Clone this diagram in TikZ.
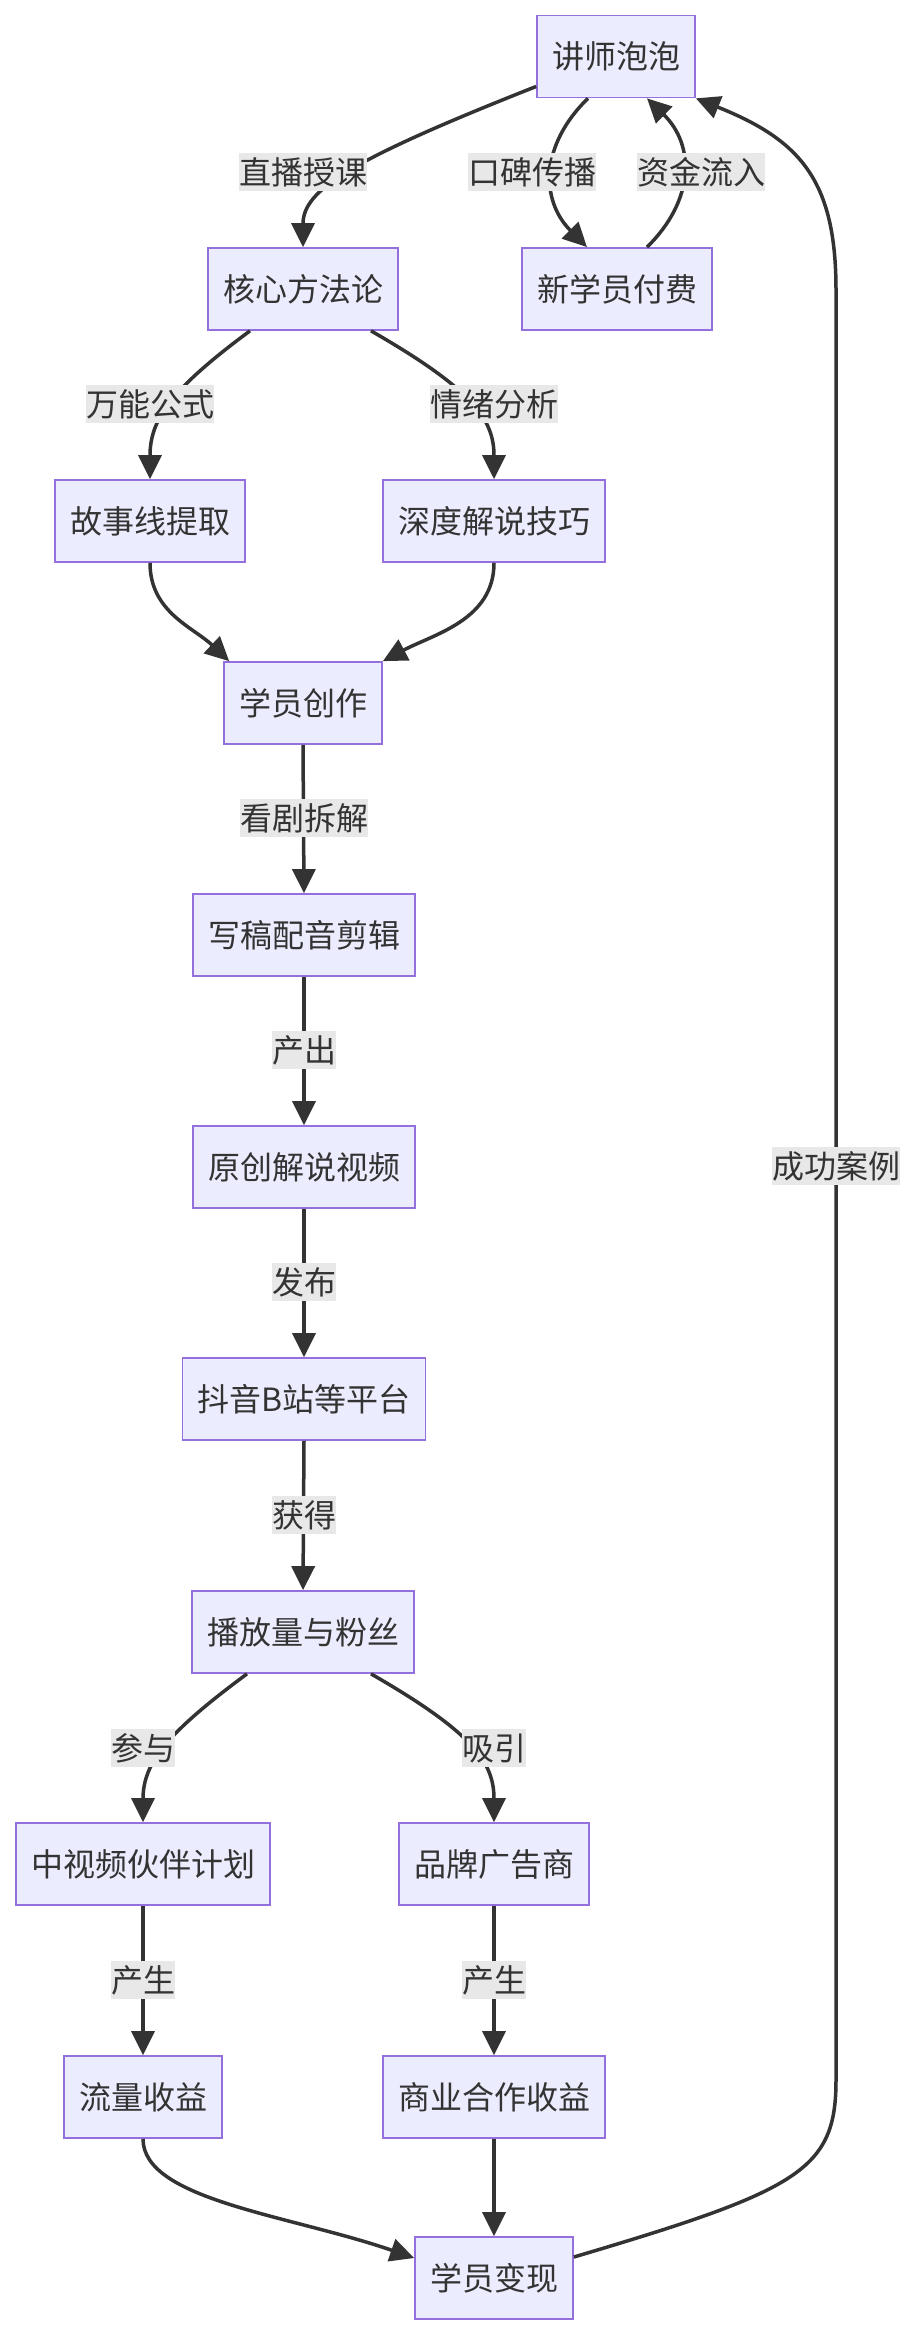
\documentclass[tikz,border=0pt]{standalone}
\usepackage{fontspec}
\setmainfont{Noto Sans CJK SC}
\usetikzlibrary{arrows.meta}
\definecolor{nodefill}{HTML}{ECECFF}
\definecolor{nodeline}{HTML}{9370DB}
\definecolor{edgecol}{HTML}{333333}
\definecolor{lblfill}{HTML}{E8E8E8}
\begin{document}
\begin{tikzpicture}[x=1pt,y=-1pt,
  box/.style={draw=nodeline, fill=nodefill, line width=1.7pt, minimum height=82pt,
    inner xsep=15pt, inner ysep=0pt, text=edgecol, font=\fontsize{32}{38}\selectfont},
  lbl/.style={fill=lblfill, inner xsep=0pt, inner ysep=0pt, minimum height=38pt,
    text=edgecol, font=\fontsize{32}{38}\selectfont},
  conn/.style={draw=edgecol, line width=3.5pt, -{Triangle[length=24pt,width=23pt]}},
  connplain/.style={draw=edgecol, line width=3.5pt}]
\useasboundingbox (0,0) rectangle (916,2336);
% nodes
\node[box] (jsp) at (616,56.5) {讲师泡泡};
\node[box] (hx) at (303,289) {核心方法论};
\node[box] (xf) at (617,289) {新学员付费};
\node[box] (gs) at (150,521) {故事线提取};
\node[box] (sd) at (494,521) {深度解说技巧};
\node[box] (xy) at (303,703) {学员创作};
\node[box] (xg) at (304,935) {写稿配音剪辑};
\node[box] (yc) at (304,1167) {原创解说视频};
\node[box] (dy) at (304,1399) {抖音B站等平台};
\node[box] (bf) at (303,1632) {播放量与粉丝};
\node[box] (zs) at (143,1864) {中视频伙伴计划};
\node[box] (pp) at (494,1864) {品牌广告商};
\node[box] (ll) at (143,2097) {流量收益};
\node[box] (sy) at (494,2097) {商业合作收益};
\node[box] (xb) at (494,2278) {学员变现};
% connectors
\draw[conn] ([yshift=-30pt]jsp.west) .. controls (350,160) and (303,190) .. (hx.north);
\draw[conn] ([xshift=-28pt]jsp.south) .. controls (540,145) and (540,200) .. ([xshift=-30pt]xf.north);
\draw[conn] ([xshift=30pt]xf.north) .. controls (695,200) and (695,145) .. ([xshift=31pt]jsp.south);
\draw[conn] ([xshift=-53pt]hx.south) .. controls (170,390) and (150,420) .. (gs.north);
\draw[conn] ([xshift=68pt]hx.south) .. controls (474,390) and (494,420) .. (sd.north);
\draw[conn] (gs.south) .. controls (150,612) and (193,627) .. ([xshift=6pt]xy.north west);
\draw[conn] (sd.south) .. controls (494,620) and (434,634) .. (xy.north east);
\draw[conn] (xy.south) -- (xg.north);
\draw[conn] (xg.south) -- (yc.north);
\draw[conn] (yc.south) -- (dy.north);
\draw[conn] (dy.south) -- (bf.north);
\draw[conn] ([xshift=-56pt]bf.south) .. controls (167,1733) and (143,1763) .. (zs.north);
\draw[conn] ([xshift=68pt]bf.south) .. controls (474,1733) and (494,1763) .. (pp.north);
\draw[conn] (zs.south) -- (ll.north);
\draw[conn] (pp.south) -- (sy.north);
\draw[conn] (ll.south) .. controls (143,2200) and (290,2215) .. ([yshift=20pt]xb.west);
\draw[conn] (sy.south) -- (xb.north);
\draw[conn] ([yshift=21pt]xb.east) .. controls (800,2190) and (836,2170) .. (836,2080)
  -- (836,290) .. controls (836,180) and (800,140) .. (jsp.south east);
% edge labels
\node[lbl] (l1) at (303,172) {直播授课};
\node[lbl] (l2) at (532,172) {口碑传播};
\node[lbl] (l3) at (701,172) {资金流入};
\node[lbl] (l4) at (150,404) {万能公式};
\node[lbl] (l5) at (494,404) {情绪分析};
\node[lbl] (l6) at (304,818) {看剧拆解};
\node[lbl] (l7) at (304,1050) {产出};
\node[lbl] (l8) at (304,1282) {发布};
\node[lbl] (l9) at (304,1515) {获得};
\node[lbl] (l10) at (143,1748) {参与};
\node[lbl] (l11) at (494,1748) {吸引};
\node[lbl] (l12) at (143,1980) {产生};
\node[lbl] (l13) at (494,1980) {产生};
\node[lbl] (l14) at (836,1166) {成功案例};
\end{tikzpicture}
\end{document}
